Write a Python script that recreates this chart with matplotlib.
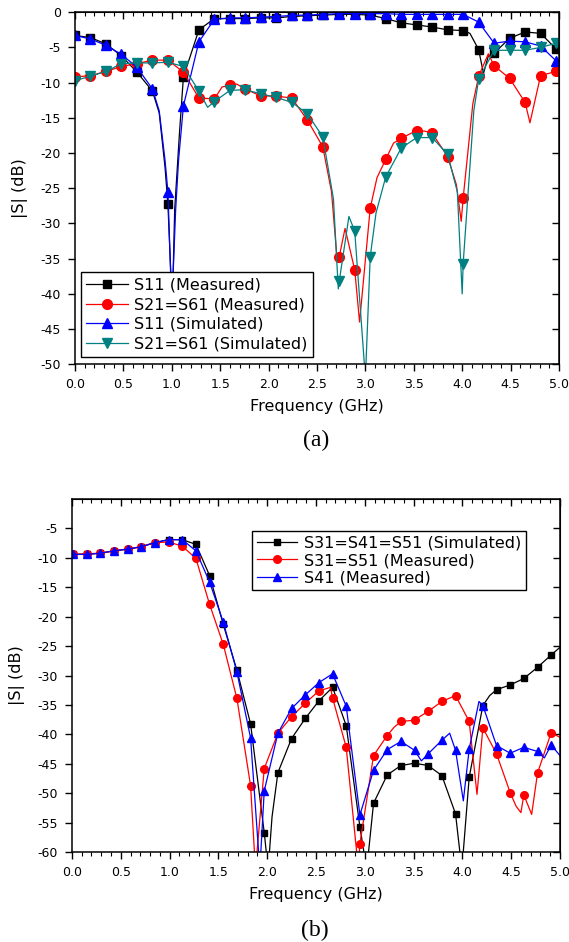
import numpy as np
import matplotlib
matplotlib.use("Agg")
import matplotlib.pyplot as plt
from matplotlib.ticker import MultipleLocator, FormatStrFormatter

plt.rcParams['font.family'] = ['DejaVu Sans']
plt.rcParams['axes.unicode_minus'] = False

### panel (a) data ###
freq_a = [0.00, 0.16, 0.32, 0.48, 0.64, 0.80, 0.96, 1.12, 1.28, 1.44, 1.60, 1.76, 1.92, 2.08, 2.24, 2.40,
          2.56, 2.73, 2.89, 3.05, 3.21, 3.37, 3.53, 3.69, 3.85, 4.01, 4.17, 4.33, 4.49, 4.65, 4.81, 4.97]

s11_meas = [-3.3, -3.6, -4.5, -6.2, -8.5, -11.2, -27.3, -9.2, -2.5, -0.9, -0.9, -0.9, -0.8, -0.8, -0.6, -0.5,
            -0.4, -0.3, -0.3, -0.4, -0.9, -1.5, -1.8, -2.1, -2.5, -2.6, -5.3, -5.8, -3.7, -2.8, -3.0, -5.2]
s11_meas_xf = [0.87, 0.93, 1.005, 1.03, 1.08, 4.08, 4.22, 4.27, 5.0]
s11_meas_xv = [-14.3, -22.0, -42.0, -28.0, -17.0, -3.0, -8.7, -6.2, -5.4]

s21_meas = [-9.2, -9.0, -8.4, -7.7, -7.3, -6.8, -6.8, -8.5, -12.2, -12.3, -10.4, -10.9, -11.9, -11.9, -12.2, -15.3,
            -19.1, -34.7, -36.6, -27.8, -20.9, -17.9, -16.8, -17.2, -20.5, -26.4, -9.1, -7.6, -9.4, -12.8, -9.0, -8.4]
s21_meas_xf = [1.52, 1.67, 2.65, 2.71, 2.79, 2.94, 3.12, 3.29, 3.62, 3.94, 3.99, 4.11, 4.27, 4.70, 5.0]
s21_meas_xv = [-10.6, -10.2, -25.5, -35.5, -30.7, -44.0, -23.5, -18.6, -16.9, -24.5, -29.7, -13.0, -5.9, -15.7, -8.2]

s11_sim = [-3.3, -3.8, -4.7, -6.0, -7.8, -10.9, -25.5, -13.3, -4.2, -1.0, -0.8, -0.8, -0.7, -0.6, -0.45, -0.4,
           -0.3, -0.2, -0.2, -0.2, -0.2, -0.3, -0.3, -0.3, -0.3, -0.3, -1.4, -4.4, -4.1, -4.2, -4.8, -6.9]
s11_sim_xf = [0.87, 0.93, 1.0, 1.04, 1.07, 5.0]
s11_sim_xv = [-14.0, -21.0, -42.0, -28.0, -21.0, -7.0]

s21_sim = [-9.7, -9.1, -8.4, -7.3, -7.2, -7.2, -7.1, -7.7, -11.2, -12.7, -11.1, -11.0, -11.6, -12.1, -12.8, -14.4,
           -17.7, -38.2, -31.1, -34.7, -23.4, -19.3, -17.8, -17.8, -20.2, -35.7, -9.5, -5.4, -5.4, -5.4, -5.0, -4.4]
s21_sim_xf = [1.37, 2.67, 2.72, 2.83, 3.00, 3.11, 3.95, 4.00, 4.12, 5.0]
s21_sim_xv = [-13.5, -26.5, -39.3, -29.0, -52.0, -28.5, -25.5, -40.0, -14.0, -4.3]

### panel (b) data ###
freq_b = [0.01, 0.15, 0.29, 0.43, 0.57, 0.71, 0.85, 0.99, 1.13, 1.27, 1.41, 1.55, 1.69, 1.83, 1.97, 2.11, 2.25, 2.39,
          2.53, 2.67, 2.81, 2.95, 3.09, 3.23, 3.37, 3.51, 3.65, 3.79, 3.93, 4.07, 4.21, 4.35, 4.49, 4.63, 4.77, 4.91]

s31_sim = [-9.4, -9.4, -9.2, -8.8, -8.5, -8.1, -7.4, -6.9, -6.9, -7.7, -13.0, -21.3, -29.1, -38.2, -56.7, -46.5, -40.7, -37.3,
           -34.3, -32.0, -38.5, -55.7, -51.7, -46.9, -45.3, -44.9, -45.3, -47.0, -53.5, -47.3, -35.1, -32.4, -31.6, -30.5, -28.6, -26.5]
s31_sim_xf = [0.0, 2.01, 2.05, 3.02, 3.995, 4.28, 5.0]
s31_sim_xv = [-9.4, -63.0, -54.0, -63.0, -63.0, -33.4, -25.2]

s31_meas = [-9.4, -9.3, -9.2, -8.8, -8.5, -8.1, -7.4, -7.3, -8.0, -10.1, -17.9, -24.7, -33.9, -48.7, -45.8, -39.8, -37.0, -34.7,
            -32.6, -33.8, -42.2, -58.6, -43.6, -40.2, -37.8, -37.6, -36.1, -34.4, -33.4, -37.8, -38.9, -43.3, -49.9, -50.3, -46.6, -39.7]
s31_meas_xf = [0.0, 1.88, 2.65, 2.935, 3.30, 3.58, 4.15, 4.55, 4.60, 4.71, 5.0]
s31_meas_xv = [-9.4, -63.0, -32.0, -63.0, -38.8, -36.8, -50.2, -52.2, -53.3, -53.6, -40.5]

s41_meas = [-9.4, -9.4, -9.2, -8.8, -8.5, -8.1, -7.4, -6.9, -6.9, -8.8, -14.1, -20.9, -29.4, -40.6, -49.6, -39.8, -35.6, -33.3,
            -31.2, -29.7, -35.2, -53.7, -46.1, -42.6, -41.2, -42.7, -43.3, -41.0, -42.7, -42.5, -35.1, -41.9, -43.2, -42.2, -42.9, -41.8]
s41_meas_xf = [0.0, 1.925, 3.58, 3.87, 4.01, 4.17, 4.84, 5.0]
s41_meas_xv = [-9.4, -63.0, -44.5, -39.8, -51.3, -34.4, -44.0, -43.6]


def merge(mf, mv, ef, ev):
    # join marker points with extra line points, remember where the markers are
    f = np.array(mf + ef)
    v = np.array(mv + ev)
    isMarker = np.array([True] * len(mf) + [False] * len(ef))
    order = np.argsort(f, kind="stable")
    return f[order], v[order], list(np.where(isMarker[order])[0])


def style(ax, ymin, yticks):
    ax.set_xlim(0, 5)
    ax.set_ylim(ymin, 0)
    ax.set_xticks(np.arange(0, 5.01, 0.5))
    ax.xaxis.set_minor_locator(MultipleLocator(0.1))
    ax.xaxis.set_major_formatter(FormatStrFormatter('%.1f'))
    ax.set_yticks(yticks)
    ax.tick_params(which='major', direction='out', length=5, width=1, labelsize=9, pad=5, top=False, right=False)
    ax.tick_params(which='minor', direction='out', length=3, width=0.8, top=False, right=False)
    for sp in ax.spines.values():
        sp.set_linewidth(1.1)
    top = ax.secondary_xaxis('top')
    top.set_xticks(np.arange(0, 5.01, 0.5))
    top.xaxis.set_minor_locator(MultipleLocator(0.1))
    top.tick_params(which='major', direction='in', length=5, width=1, labeltop=False)
    top.tick_params(which='minor', direction='in', length=3, width=0.8)
    right = ax.secondary_yaxis('right')
    right.set_yticks(yticks)
    right.tick_params(direction='in', length=5, width=1, labelright=False)
    ax.set_xlabel('Frequency (GHz)', fontsize=11.5, labelpad=6)
    ax.set_ylabel('|S| (dB)', fontsize=11.5)
    ax.yaxis.set_label_coords(-0.097, 0.5)


fig = plt.figure(figsize=(5.69, 9.42), dpi=100)
ax1 = fig.add_axes([0.1318, 0.6133, 0.8506, 0.3737])
ax2 = fig.add_axes([0.1265, 0.0955, 0.8576, 0.3747])

teal = '#008080'

# (a)
seriesA = [
    (s11_meas, s11_meas_xf, s11_meas_xv, 'black', 's', 6, 'S11 (Measured)'),
    (s21_meas, s21_meas_xf, s21_meas_xv, 'red', 'o', 7, 'S21=S61 (Measured)'),
    (s11_sim, s11_sim_xf, s11_sim_xv, 'blue', '^', 7.5, 'S11 (Simulated)'),
    (s21_sim, s21_sim_xf, s21_sim_xv, teal, 'v', 7.5, 'S21=S61 (Simulated)'),
]
for vals, ef, ev, col, mk, ms, name in seriesA:
    f, v, idx = merge(freq_a, vals, ef, ev)
    ax1.plot(f, v, color=col, lw=0.9, marker=mk, ms=ms, markevery=idx, label=name)
style(ax1, -50, np.arange(0, -51, -5))
leg1 = ax1.legend(loc='lower left', bbox_to_anchor=(0.012, 0.021), borderaxespad=0, fontsize=11.5,
                  fancybox=False, framealpha=1, edgecolor='black', labelspacing=0.28, handlelength=2.6,
                  handletextpad=0.4, borderpad=0.35)
leg1.get_frame().set_linewidth(1.0)

# (b)
seriesB = [
    (s31_sim, s31_sim_xf, s31_sim_xv, 'black', 's', 4.5, 'S31=S41=S51 (Simulated)'),
    (s31_meas, s31_meas_xf, s31_meas_xv, 'red', 'o', 5.5, 'S31=S51 (Measured)'),
    (s41_meas, s41_meas_xf, s41_meas_xv, 'blue', '^', 6, 'S41 (Measured)'),
]
for vals, ef, ev, col, mk, ms, name in seriesB:
    f, v, idx = merge(freq_b, vals, ef, ev)
    ax2.plot(f, v, color=col, lw=0.9, marker=mk, ms=ms, markevery=idx, label=name)
style(ax2, -60, np.arange(-5, -61, -5))
leg2 = ax2.legend(loc='upper right', bbox_to_anchor=(0.930, 0.910), borderaxespad=0, fontsize=11.5,
                  fancybox=False, framealpha=1, edgecolor='black', labelspacing=0.15, handlelength=2.5,
                  handletextpad=0.45, borderpad=0.3)
leg2.get_frame().set_linewidth(1.0)

fig.text(0.555, 1 - 440 / 942, '(a)', family='Liberation Serif', fontsize=17, ha='center', va='center')
fig.text(0.553, 1 - 930 / 942, '(b)', family='Liberation Serif', fontsize=17, ha='center', va='center')

plt.savefig('out.png', dpi=100)
